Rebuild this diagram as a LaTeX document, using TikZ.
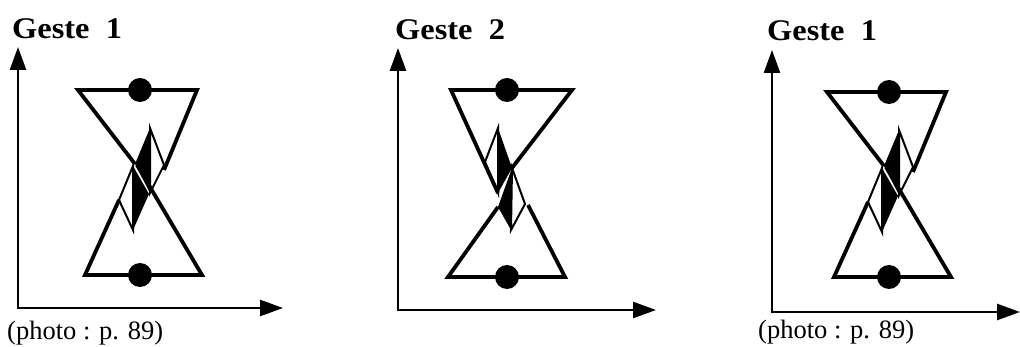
\documentclass[tikz,border=0pt]{standalone}
\usepackage{fontspec}
\setmainfont{Liberation Serif}
\usetikzlibrary{arrows.meta}
\tikzset{
  axes/.style={line width=2.6pt, line join=miter, {Triangle[length=23pt,width=16pt]}-{Triangle[length=23pt,width=16pt]}},
  edge/.style={line width=3.8pt, line join=miter},
  thinline/.style={line width=2pt, line join=miter},
  dot/.style={circle, fill=black, minimum size=24pt, inner sep=0pt},
  title/.style={anchor=base west, inner sep=0pt, font=\fontsize{30}{30}\selectfont\bfseries},
  caption/.style={anchor=base west, inner sep=0pt, font=\fontsize{26.5}{26.5}\selectfont},
}
\newcommand\gesteA[1]{%
  \coordinate (tl#1) at (78,90); \coordinate (tr#1) at (197,90);
  \coordinate (bl#1) at (85,275); \coordinate (br#1) at (202,275);
  \coordinate (ta#1) at (150,128); \coordinate (la#1) at (135,164);
  \coordinate (ba#1) at (150,193); \coordinate (ra#1) at (164,165);
  \coordinate (ea#1) at (164,170);
  \coordinate (tb#1) at (133,166); \coordinate (lb#1) at (119,200);
  \coordinate (bb#1) at (133,230); \coordinate (rb#1) at (149,194);
  \coordinate (eb#1) at (137,165);
  \draw[edge] (la#1) -- (tl#1) -- (tr#1) -- (ea#1);
  \draw[edge] (lb#1) -- (bl#1) -- (br#1) -- (eb#1);
  \fill (ta#1) -- (la#1) -- (ba#1) -- cycle;
  \draw[thinline] (ta#1) -- (ra#1) -- (ba#1) -- cycle;
  \fill (tb#1) -- (rb#1) -- (bb#1) -- cycle;
  \draw[thinline] (tb#1) -- (lb#1) -- (bb#1) -- cycle;
  \node[dot] (dt#1) at (140,90) {};
  \node[dot] (db#1) at (140,275) {};
}
\begin{document}
\begin{tikzpicture}[x=1pt,y=-1pt]
\useasboundingbox (0,0) rectangle (1020,347);
% ---- panel 1
\node[title] (g1) at (12,39) {\scalebox{1.08}[1]{Geste~~1}};
\coordinate (yo1) at (18,47); \coordinate (o1) at (18,308); \coordinate (xo1) at (283,308);
\draw[axes] (yo1) -- (o1) -- (xo1);
\gesteA{p}
\node[caption] (c1) at (7,339) {(photo : p. 89)};
% ---- panel 2
\node[title] (g2) at (395,40) {\scalebox{1.08}[1]{Geste~~2}};
\coordinate (yo2) at (398,48); \coordinate (o2) at (398,310); \coordinate (xo2) at (656,310);
\draw[axes] (yo2) -- (o2) -- (xo2);
\coordinate (tl2) at (451,90); \coordinate (tr2) at (572,90);
\coordinate (bl2) at (448,277); \coordinate (br2) at (565,277);
\coordinate (ta2) at (498,128); \coordinate (la2) at (485,162);
\coordinate (ba2) at (498,193); \coordinate (ra2) at (512,168);
\coordinate (tb2) at (512,168); \coordinate (lb2) at (498,207);
\coordinate (bb2) at (511,230); \coordinate (rb2) at (525,204);
\coordinate (eb2) at (528,205);
\draw[edge] (ba2) -- (tl2) -- (tr2) -- (ra2);
\draw[edge] (lb2) -- (bl2) -- (br2) -- (eb2);
\fill (ta2) -- (ra2) -- (ba2) -- cycle;
\draw[thinline] (ta2) -- (la2) -- (ba2) -- cycle;
\fill (tb2) -- (lb2) -- (bb2) -- cycle;
\draw[thinline] (tb2) -- (rb2) -- (bb2) -- cycle;
\node[dot] (dt2) at (507,90) {};
\node[dot] (db2) at (507,277) {};
% ---- panel 3
\node[title] (g3) at (767,41) {\scalebox{1.08}[1]{Geste~~1}};
\coordinate (yo3) at (772,50); \coordinate (o3) at (772,312); \coordinate (xo3) at (1020,312);
\draw[axes] (yo3) -- (o3) -- (xo3);
\begin{scope}[shift={(749,2)}]
\gesteA{q}
\end{scope}
\node[caption] (c3) at (758,338) {(photo : p. 89)};
\end{tikzpicture}
\end{document}
